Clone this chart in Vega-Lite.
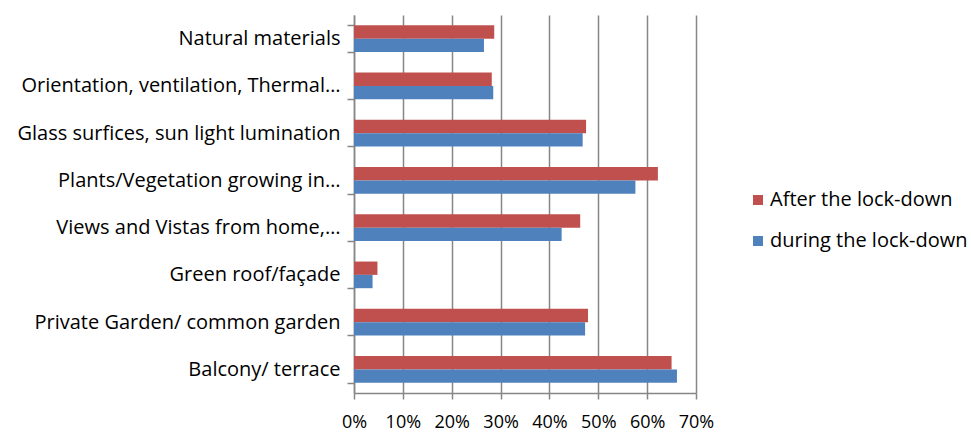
{
  "$schema": "https://vega.github.io/schema/vega-lite/v6.json",
  "width": 342,
  "height": 378,
  "padding": {"left": 17, "top": 5, "right": 0, "bottom": 0},
  "background": "white",
  "config": {
    "font": "Open Sans",
    "view": {"stroke": null}
  },
  "data": {
    "values": [
      {"category": "Natural materials", "series": "After the lock-down", "value": 0.287},
      {"category": "Natural materials", "series": "during the lock-down", "value": 0.266},
      {"category": "Orientation, ventilation, Thermal…", "series": "After the lock-down", "value": 0.282},
      {"category": "Orientation, ventilation, Thermal…", "series": "during the lock-down", "value": 0.285},
      {"category": "Glass surfices, sun light lumination", "series": "After the lock-down", "value": 0.475},
      {"category": "Glass surfices, sun light lumination", "series": "during the lock-down", "value": 0.468},
      {"category": "Plants/Vegetation growing in…", "series": "After the lock-down", "value": 0.622},
      {"category": "Plants/Vegetation growing in…", "series": "during the lock-down", "value": 0.576},
      {"category": "Views and Vistas from home,…", "series": "After the lock-down", "value": 0.463},
      {"category": "Views and Vistas from home,…", "series": "during the lock-down", "value": 0.425},
      {"category": "Green roof/façade", "series": "After the lock-down", "value": 0.048},
      {"category": "Green roof/façade", "series": "during the lock-down", "value": 0.038},
      {"category": "Private Garden/ common garden", "series": "After the lock-down", "value": 0.479},
      {"category": "Private Garden/ common garden", "series": "during the lock-down", "value": 0.473},
      {"category": "Balcony/ terrace", "series": "After the lock-down", "value": 0.650},
      {"category": "Balcony/ terrace", "series": "during the lock-down", "value": 0.661}
    ]
  },
  "mark": {"type": "bar"},
  "encoding": {
    "y": {
      "field": "category",
      "type": "nominal",
      "sort": null,
      "title": null,
      "scale": {"paddingInner": 0.436, "paddingOuter": 0.218},
      "axis": {
        "tickBand": "extent",
        "domainColor": "#868686",
        "domainWidth": 1.5,
        "tickColor": "#868686",
        "tickWidth": 1.5,
        "tickSize": 7,
        "labelFontSize": 20,
        "labelColor": "#000000",
        "labelPadding": 7,
        "labelLimit": 400,
        "grid": false
      }
    },
    "yOffset": {
      "field": "series",
      "type": "nominal",
      "sort": ["After the lock-down", "during the lock-down"]
    },
    "x": {
      "field": "value",
      "type": "quantitative",
      "title": null,
      "scale": {"domain": [0, 0.7], "nice": false},
      "axis": {
        "format": ".0%",
        "values": [0, 0.1, 0.2, 0.3, 0.4, 0.5, 0.6, 0.7],
        "grid": true,
        "gridColor": "#868686",
        "gridWidth": 1.5,
        "domainColor": "#868686",
        "domainWidth": 1.5,
        "tickColor": "#868686",
        "tickWidth": 1.5,
        "tickSize": 6,
        "labelFontSize": 18,
        "labelColor": "#000000",
        "labelPadding": 14,
        "labelFlush": false
      }
    },
    "color": {
      "field": "series",
      "type": "nominal",
      "sort": ["After the lock-down", "during the lock-down"],
      "scale": {"range": ["#C0504D", "#4F81BD"]},
      "legend": {
        "title": null,
        "orient": "none",
        "legendX": 394,
        "legendY": 175,
        "symbolType": "square",
        "symbolSize": 100,
        "symbolStrokeWidth": 0,
        "labelFontSize": 20,
        "labelColor": "#000000",
        "labelOffset": 2,
        "rowPadding": 21,
        "labelLimit": 300,
        "padding": 0
      }
    }
  }
}
